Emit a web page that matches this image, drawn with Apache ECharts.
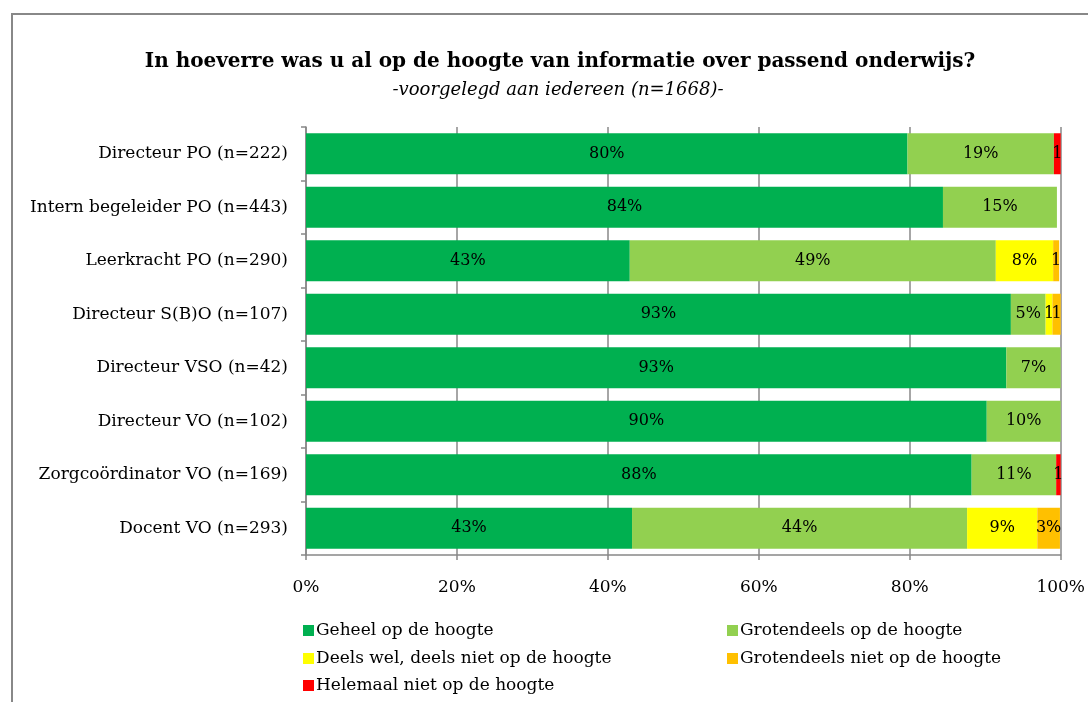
<!DOCTYPE html>
<html><head><meta charset="utf-8">
<script src="https://cdn.jsdelivr.net/npm/echarts@6/dist/echarts.min.js"></script>
<style>html,body{margin:0;padding:0;background:#fff}#c{width:1088px;height:702px}</style>
</head><body><div id="c"></div>
<script>
const categories = ["Directeur PO (n=222)","Intern begeleider PO (n=443)","Leerkracht PO (n=290)","Directeur S(B)O (n=107)","Directeur VSO (n=42)","Directeur VO (n=102)","Zorgcoördinator VO (n=169)","Docent VO (n=293)"];
const seriesNames = ["Geheel op de hoogte","Grotendeels op de hoogte","Deels wel, deels niet op de hoogte","Grotendeels niet op de hoogte","Helemaal niet op de hoogte"];
const geheel      = [79.7, 84.4, 42.9, 93.4, 92.8, 90.2, 88.2, 43.2];
const grotendeels = [19.4, 15.1, 48.5, 4.6, 7.2, 9.8, 11.2, 44.4];
const deels       = [0, 0, 7.6, 0.9, 0, 0, 0, 9.3];
const grotNiet    = [0, 0, 0.8, 1.1, 0, 0, 0, 3.0];
const helemaalNiet= [0.9, 0, 0, 0, 0, 0, 0.6, 0];
const xTicks = [0, 20, 40, 60, 80, 100];
const colors = ["#00B050","#92D050","#FFFF00","#FFC000","#FF0000"];
const values = [geheel, grotendeels, deels, grotNiet, helemaalNiet];
const FONT = "DejaVu Serif";

const chart = echarts.init(document.getElementById('c'), null, {renderer:'canvas'});
function fmt(p){ const v=p.value; if(!v) return ''; const r=Math.round(v); return r<=1 ? String(r) : r+'%'; }
const series = seriesNames.map((n,i)=>({
  name:n, type:'bar', stack:'t', barWidth:41,
  data: values[i].slice().reverse(),
  itemStyle:{color:colors[i]},
  label:{show:true, position:'inside', formatter:fmt, color:'#000', fontFamily:FONT, fontSize:16},
  emphasis:{disabled:true}
}));
const legendPos = [[298,617],[722,617],[298,645],[722,645],[298,672]];
const legends = seriesNames.map((n,i)=>({
  data:[n], left:legendPos[i][0], top:legendPos[i][1], itemWidth:11, itemHeight:11, itemGap:4,
  icon:'rect', selectedMode:false, textStyle:{fontFamily:FONT, fontSize:17, color:'#000', padding:[0,0,0,-3]}
}));
chart.setOption({
  animation:false,
  title:[
    {text:'In hoeverre was u al op de hoogte van informatie over passend onderwijs?', left:555, top:47, textAlign:'center',
     textStyle:{fontFamily:FONT, fontWeight:'bold', fontSize:20, color:'#000'}},
    {text:'-voorgelegd aan iedereen (n=1668)-', left:553, top:76, textAlign:'center',
     textStyle:{fontFamily:FONT, fontStyle:'italic', fontWeight:'normal', fontSize:18, color:'#000'}}
  ],
  legend: legends,
  grid:{left:306, right:27, top:127, bottom:147, containLabel:false},
  xAxis:{type:'value', min:0, max:100, interval:20,
    axisLine:{show:true, lineStyle:{color:'#888', width:1.5}}, axisTick:{show:true, length:5, lineStyle:{color:'#888', width:1.5}},
    splitLine:{show:true, lineStyle:{color:'#888', width:1.5}},
    axisLabel:{formatter:v=>v+'%', fontFamily:FONT, fontSize:17, color:'#000', margin:24}},
  yAxis:{type:'category', data:categories.slice().reverse(),
    axisLine:{show:true, lineStyle:{color:'#888', width:1.5}}, axisTick:{show:true, length:5, lineStyle:{color:'#888', width:1.5}},
    axisLabel:{fontFamily:FONT, fontSize:17, color:'#000', margin:18}},
  graphic:[{type:'polyline', shape:{points:[[12,702],[12,14],[1088,14]]}, style:{stroke:'#888', lineWidth:2, fill:null}}],
  series
});
</script></body></html>
